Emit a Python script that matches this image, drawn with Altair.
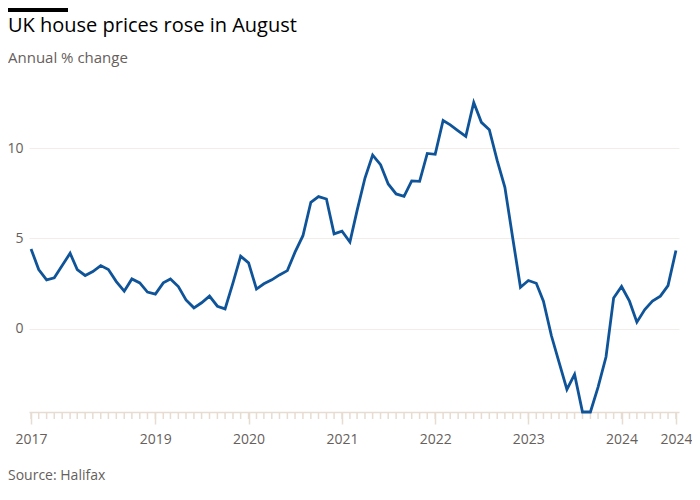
import altair as alt
import pandas as pd

# Monthly annual % change, Sep 2017 - Aug 2024 (Halifax)
months = pd.date_range("2017-09-01", "2024-08-01", freq="MS").strftime("%Y-%m-%d").tolist()
values = [
    4.42, 3.28, 2.71, 2.82,                                             # 2017 Sep-Dec
    3.50, 4.18, 3.28, 2.95, 3.17, 3.50, 3.28, 2.61, 2.08, 2.76, 2.54, 2.03,  # 2018
    1.92, 2.54, 2.76, 2.34, 1.60, 1.16, 1.44, 1.81, 1.25, 1.10, 2.54, 4.02,  # 2019
    3.65, 2.20, 2.49, 2.71, 2.98, 3.22, 4.24, 5.15, 7.00, 7.31, 7.18, 5.25,  # 2020
    5.40, 4.80, 6.54, 8.34, 9.61, 9.08, 8.01, 7.46, 7.33, 8.18, 8.16, 9.70,  # 2021
    9.65, 11.52, 11.28, 10.95, 10.64, 12.52, 11.42, 11.01, 9.30, 7.83, 5.00, 2.30,  # 2022
    2.67, 2.52, 1.53, -0.37, -1.84, -3.35, -2.52, -4.60, -4.60, -3.22, -1.56, 1.71,  # 2023
    2.34, 1.53, 0.37, 1.07, 1.53, 1.81, 2.39, 4.33,                     # 2024 Jan-Aug
]
label_dates = ["2017-09-01", "2019-01-01", "2020-01-01", "2021-01-01",
               "2022-01-01", "2023-01-01", "2024-01-01", "2024-08-01"]
y_ticks = [0, 5, 10]

title = "UK house prices rose in August"
subtitle = "Annual % change"
source = "Source: Halifax"

df = pd.DataFrame({"month": months, "value": values})

W, H = 650, 311
FONT = "Open Sans"
TEXT_GREY = "#66605c"
AXIS_COL = "#e6dcd2"
GRID_COL = "#f2ede8"
LINE_COL = "#0f5499"

x_scale = alt.Scale(domain=[alt.DateTime(year=2017, month=8, date=24),
                            alt.DateTime(year=2024, month=8, date=13)])
y_scale = alt.Scale(domain=[-4.6, 12.6], nice=False, zero=False)

x_axis = alt.Axis(
    values=[alt.DateTime(year=int(d[:4]), month=int(d[5:7]), date=1) for d in label_dates],
    format="%Y", title=None, grid=False,
    domainColor=AXIS_COL, domainWidth=1.5, tickColor=AXIS_COL, tickWidth=1.5,
    tickSize=12, labelPadding=8, labelColor=TEXT_GREY, labelFont=FONT,
    labelFontSize=14, labelFlush=False, labelOverlap=False,
)
y_axis = alt.Axis(
    values=y_ticks, title=None, domain=False, ticks=False, labelPadding=6,
    gridColor=GRID_COL, gridWidth=1, labelColor=TEXT_GREY, labelFont=FONT,
    labelFontSize=14,
)

line = alt.Chart(df).mark_line(color=LINE_COL, strokeWidth=2.8, strokeJoin="miter", clip=False).encode(
    x=alt.X("month:T", scale=x_scale, axis=x_axis),
    y=alt.Y("value:Q", scale=y_scale, axis=y_axis),
)

minor_ticks = alt.Chart(df).mark_rule(color=AXIS_COL, strokeWidth=1.5).encode(
    x=alt.X("month:T", scale=x_scale),
    y=alt.value(H),
    y2=alt.value(H + 7),
)

texts = pd.DataFrame({
    "t": [title, subtitle, source],
    "kind": ["title", "subtitle", "source"],
})

title_txt = alt.Chart(texts).transform_filter(alt.datum.kind == "title").mark_text(
    align="left", baseline="alphabetic", font=FONT, fontSize=20, color="#000000"
).encode(x=alt.value(-21), y=alt.value(-69), text="t:N")

subtitle_txt = alt.Chart(texts).transform_filter(alt.datum.kind == "subtitle").mark_text(
    align="left", baseline="alphabetic", font=FONT, fontSize=15, color=TEXT_GREY
).encode(x=alt.value(-21), y=alt.value(-38), text="t:N")

src = alt.Chart(texts).transform_filter(alt.datum.kind == "source").mark_text(
    align="left", baseline="middle", font=FONT, fontSize=14, color=TEXT_GREY
).encode(x=alt.value(-21), y=alt.value(H + 64), text="t:N")

bar = alt.Chart(pd.DataFrame({"a": [1]})).mark_rect(color="#000000").encode(
    x=alt.value(-21), x2=alt.value(39), y=alt.value(-93), y2=alt.value(-89)
)

chart = alt.layer(minor_ticks, line, title_txt, subtitle_txt, src, bar).properties(
    width=W, height=H,
    background="#ffffff",
    autosize=alt.AutoSizeParams(type="none"),
    padding={"left": 21, "top": 93, "right": 13, "bottom": 80},
).configure_view(strokeWidth=0)

chart.save("out.html", embed_options={"renderer": "svg", "actions": False})
